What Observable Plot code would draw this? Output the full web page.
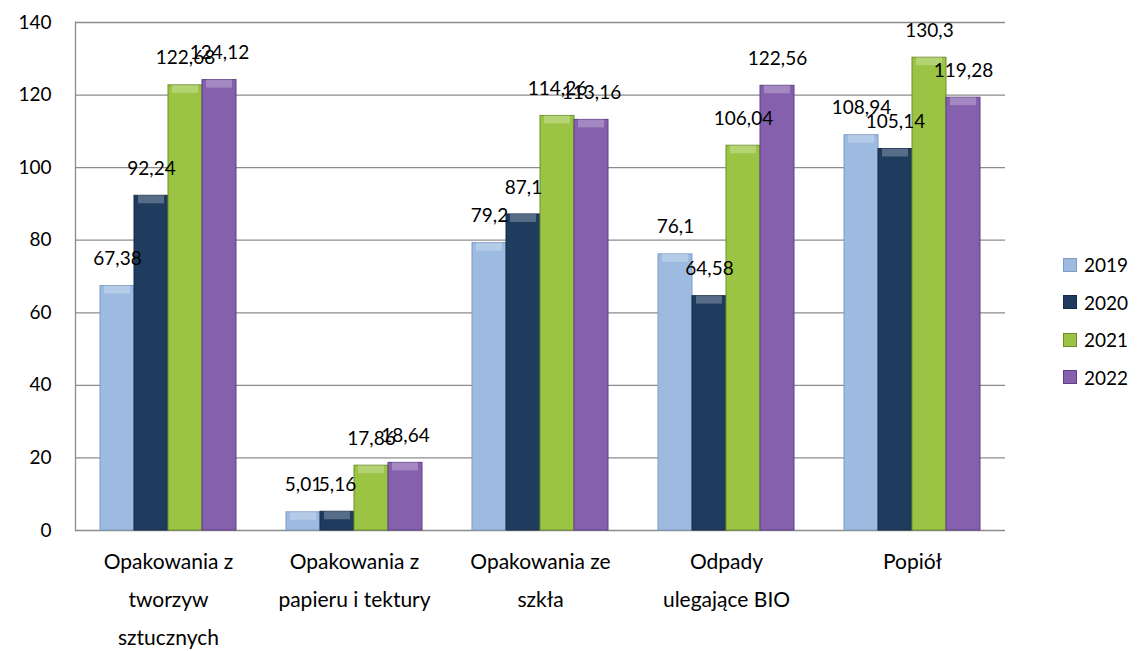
<!DOCTYPE html>
<html><head><meta charset="utf-8">
<script src="https://cdn.jsdelivr.net/npm/d3@7"></script>
<script src="https://cdn.jsdelivr.net/npm/@observablehq/plot@0.6"></script>
<style>
body{margin:0;background:#fff;font-family:Lato,"Noto Sans",sans-serif;}
#wrap{position:relative;width:1142px;height:651px;}
#legend{position:absolute;left:1063px;top:246px;font-size:19px;color:#000;}
#legend div{display:flex;align-items:center;height:37.5px;}
#legend span.sw{display:inline-block;width:14px;height:14px;margin-right:7px;box-sizing:border-box;}
</style></head>
<body><div id="wrap"><div id="chart"></div><div id="legend"></div></div>
<script>
const categories = ["Opakowania z\ntworzyw\nsztucznych","Opakowania z\npapieru i tektury","Opakowania ze\nszkła","Odpady\nulegające BIO","Popiół"];
const years = ["2019","2020","2021","2022"];
const v2019 = [67.38, 5.01, 79.2, 76.1, 108.94];
const v2020 = [92.24, 5.16, 87.1, 64.58, 105.14];
const v2021 = [122.68, 17.86, 114.26, 106.04, 130.3];
const v2022 = [124.12, 18.64, 113.16, 122.56, 119.28];
const yTicks = [0,20,40,60,80,100,120,140];
const colors = ["#9dbbe0","#1f3b5e","#9bc444","#8460ad"];
const strokes = ["#7f9cc2","#142a46","#6f8f2c","#5e3f85"];

const series = [v2019, v2020, v2021, v2022];
const data = [];
categories.forEach((c, i) => years.forEach((y, j) => data.push({cat: c, year: y, value: series[j][i]})));
const fmt = v => String(v).replace(".", ",");

const chart = Plot.plot({
  width: 1142, height: 651,
  marginLeft: 75, marginRight: 137, marginTop: 22, marginBottom: 121,
  style: {fontFamily: "Lato, 'Noto Sans', sans-serif", fontSize: "19px", color: "#000", background: "#fff"},
  fx: {domain: categories, padding: 0, label: null},
  x: {domain: years, paddingInner: 0, paddingOuter: 0.66, axis: null},
  y: {domain: [0, 140], label: null},
  color: {domain: years, range: colors},
  marks: [
    Plot.ruleY(yTicks, {stroke: "#8c8c8c", strokeWidth: 1.3}),
    Plot.frame({anchor: "left", stroke: "#8c8c8c", strokeWidth: 1.3, facetAnchor: "left"}),
    Plot.axisY({ticks: yTicks, tickSize: 0, tickPadding: 24, fontSize: 19, label: null}),
    Plot.axisFx({anchor: "bottom", tickSize: 0, tickPadding: 12, fontSize: 21, lineHeight: 1.8, label: null, lineAnchor: "top"}),
    Plot.barY(data, {fx: "cat", x: "year", y: "value", fill: "year", stroke: d => strokes[years.indexOf(d.year)], strokeWidth: 1}),
    Plot.barY(data, {fx: "cat", x: "year", y1: d => Math.max(0, d.value - 2.2), y2: "value", insetLeft: 4, insetRight: 4, fill: "#fff", fillOpacity: 0.25}),
    Plot.text(data, {fx: "cat", x: "year", y: "value", text: d => fmt(d.value), dy: -27, fontSize: 19, fill: "#000"})
  ]
});
document.getElementById("chart").appendChild(chart);

const lg = document.getElementById("legend");
years.forEach((y, j) => {
  const d = document.createElement("div");
  d.innerHTML = `<span class="sw" style="background:${colors[j]};border:1px solid ${strokes[j]}"></span>${y}`;
  lg.appendChild(d);
});
</script></body></html>
